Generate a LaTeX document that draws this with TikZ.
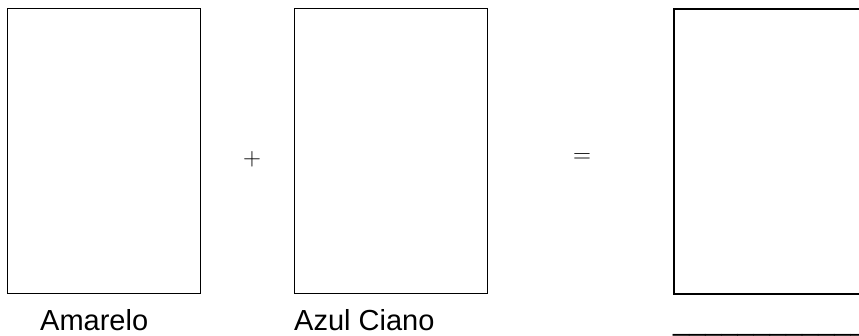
\documentclass[tikz,border=0pt]{standalone}
\usepackage{fontspec}
\newfontfamily\labelfont{Liberation Sans}
\begin{document}
\begin{tikzpicture}[x=1pt,y=-1pt,
  panel/.style={draw=black,line width=1pt,minimum width=193pt,minimum height=285pt,inner sep=0pt,anchor=north west},
  panelthick/.style={panel,line width=1.6pt},
  lbl/.style={font=\labelfont\fontsize{29}{34}\selectfont,inner sep=0pt,anchor=base west},
  op/.style={font=\fontsize{25}{30}\selectfont,inner sep=0pt}]
\clip (0,0) rectangle (859,336);
\node[panel] (b1) at (7,8) {};
\node[panel] (b2) at (294,8) {};
\node[panelthick] (b3) at (673,8) {};
\node[op] (plus) at (252,159) {$+$};
\node[op] (eq) at (582,158) {$=$};
\node[lbl] (l1) at (40,331) {Amarelo};
\node[lbl] (l2) at (294,331) {Azul Ciano};
\node[lbl] (l3) at (673,331) {\_\_\_\_\_\_\_\_\_\_\_\_};
\end{tikzpicture}
\end{document}
